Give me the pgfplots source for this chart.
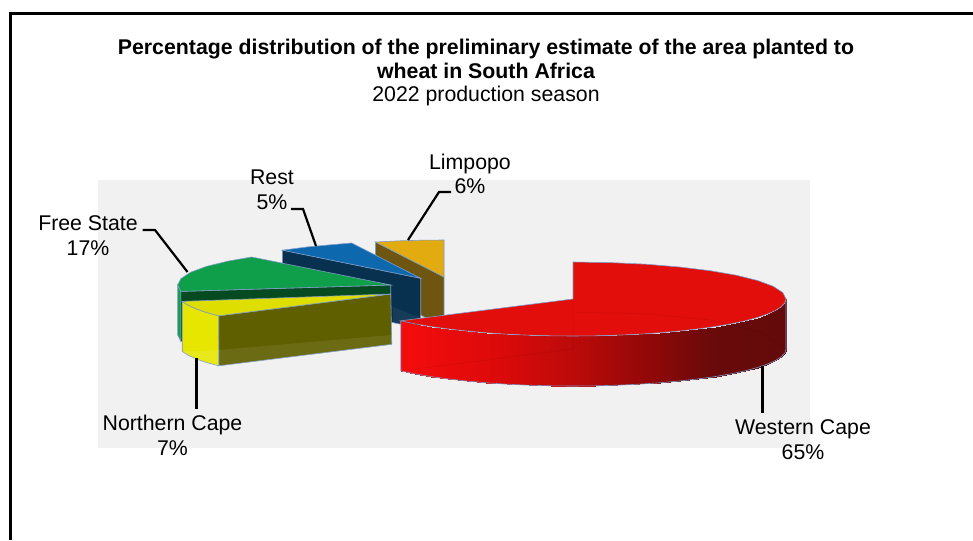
\documentclass[border=0pt]{standalone}
\usepackage{fontspec}
\setmainfont{Liberation Sans}
\usepackage{pgfplots}
\pgfplotsset{compat=1.18}

\definecolor{edge}{HTML}{7F9CC6}
\definecolor{plotbg}{HTML}{F1F1F1}
\definecolor{redtop}{HTML}{E20E0C}
\definecolor{goldtop}{HTML}{E2AB0F}
\definecolor{goldin}{HTML}{6E5611}
\definecolor{bluetop}{HTML}{0E68AE}
\definecolor{bluein}{HTML}{08304F}
\definecolor{greentop}{HTML}{0F9E4A}
\definecolor{greenin}{HTML}{064A22}
\definecolor{yellowtop}{HTML}{DEDE00}
\definecolor{yellowrim}{HTML}{E6E600}
\definecolor{yellowin}{HTML}{5F5F00}

\newcommand{\lab}{\fontsize{21.3}{24.5}\selectfont}

\begin{document}
\begin{tikzpicture}
\begin{axis}[
    scale only axis,
    width=973pt, height=540pt,
    xmin=0, xmax=973,
    ymin=0, ymax=540,
    y dir=reverse,
    hide axis,
    colormap={redrim}{rgb255(0)=(245,12,12) rgb255(100)=(220,10,10) rgb255(173)=(188,10,10) rgb255(250)=(145,8,8) rgb255(310)=(106,10,10) rgb255(386)=(100,10,10)},
    point meta min=400, point meta max=786,
]

% page
\addplot[fill=white, draw=none] coordinates {(0,0)(973,0)(973,540)(0,540)} -- cycle;

% frame, top and left only
\addplot[black, line width=3pt] coordinates {(10,540)(10,13.5)(973,13.5)};

% plot area
\addplot[fill=plotbg, draw=none] coordinates {(98,180)(810,180)(810,447.5)(98,447.5)} -- cycle;

% Limpopo
\addplot[fill=goldin, draw=edge, line width=.6pt] coordinates {(375.5,242)(444,277)(444,327)(375.5,292)} -- cycle;
\addplot[fill=goldtop, draw=edge, line width=.6pt] coordinates {(444,277)(375.5,242)(399.7,240.8)(422,240.2)(444,240)} -- cycle;

% Rest
\addplot[fill=bluein, draw=edge, line width=.6pt] coordinates {(282.3,250)(420.7,278.3)(420.7,328.3)(282.3,300)} -- cycle;
\addplot[fill=white, fill opacity=.06, draw=none] coordinates {(393,307)(420.7,318)(420.7,328)(393,323)} -- cycle;
\addplot[fill=bluetop, draw=edge, line width=.6pt] coordinates {(420.7,278.3)(282.3,250.2)(307.8,246.9)(330.7,244.8)(351.7,243)} -- cycle;

% Free State
\addplot[fill=greentop, draw=edge, line width=.6pt] coordinates {(177.7,285)(180.9,291.4)(180.9,341.4)(177.7,335)} -- cycle;
\addplot[fill=greenin, draw=edge, line width=.6pt] coordinates {(180.9,291.4)(390.7,285)(390.7,335)(180.9,341.4)} -- cycle;
\addplot[fill=greentop, draw=edge, line width=.6pt] coordinates {(390.7,285)(251.7,257)(227.5,261.2)(206.2,266.5)(190.5,272.3)(180.9,278.6)(177.7,285)(180.9,291.4)} -- cycle;

% Northern Cape
\addplot[fill=yellowin, draw=edge, line width=.6pt] coordinates {(218.7,315.8)(390.7,294)(391.8,344.3)(218.7,365.8)} -- cycle;
\addplot[fill=white, fill opacity=.08, draw=none] coordinates {(218.7,350)(391.6,335)(391.8,344.3)(218.7,365.8)} -- cycle;
\addplot[fill=yellowrim, draw=edge, line width=.6pt] coordinates {(182.2,301.4)(188.4,305.4)(196.4,309)(206.5,312.5)(218.7,315.8)(218.7,365.8)(206.5,362.5)(196.4,359)(188.4,355.4)(182.2,351.4)} -- cycle;
\addplot[fill=white, fill opacity=.1, draw=none] coordinates {(182.2,351.4)(218.7,350)(218.7,365.8)(206.5,362.5)(196.4,359)(188.4,355.4)} -- cycle;
\addplot[fill=yellowtop, draw=edge, line width=.6pt] coordinates {(390.7,294)(182.2,301.4)(188.4,305.4)(196.4,309)(206.5,312.5)(218.7,315.8)} -- cycle;

% Western Cape, rim then top
\addplot[surf, shader=interp, mesh/rows=2, point meta=x] table[row sep=crcr] {
786 299\\ 784.8 302.9\\ 781.3 306.7\\ 775.6 310.4\\ 767.6 314\\ 757.5 317.5\\ 745.3 320.8\\ 731.3 323.8\\ 715.5 326.5\\ 698.2 328.9\\ 679.5 331\\ 659.6 332.8\\ 638.8 334.2\\ 617.3 335.2\\ 595.3 335.8\\ 573 336\\ 550.7 335.8\\ 528.7 335.2\\ 507.2 334.2\\ 486.4 332.8\\ 466.5 331\\ 447.8 328.9\\ 430.5 326.5\\ 414.7 323.8\\ 400.7 320.8\\
786 349\\ 784.8 352.9\\ 781.3 356.7\\ 775.6 360.4\\ 767.6 364\\ 757.5 367.5\\ 745.3 370.8\\ 731.3 373.8\\ 715.5 376.5\\ 698.2 378.9\\ 679.5 381\\ 659.6 382.8\\ 638.8 384.2\\ 617.3 385.2\\ 595.3 385.8\\ 573 386\\ 550.7 385.8\\ 528.7 385.2\\ 507.2 384.2\\ 486.4 382.8\\ 466.5 381\\ 447.8 378.9\\ 430.5 376.5\\ 414.7 373.8\\ 400.7 370.8\\
};
\addplot[draw=edge, line width=.6pt] coordinates {(786,299)(786,349)(784.8,352.9)(781.3,356.7)(775.6,360.4)(767.6,364)(757.5,367.5)(745.3,370.8)(731.3,373.8)(715.5,376.5)(698.2,378.9)(679.5,381)(659.6,382.8)(638.8,384.2)(617.3,385.2)(595.3,385.8)(573,386)(550.7,385.8)(528.7,385.2)(507.2,384.2)(486.4,382.8)(466.5,381)(447.8,378.9)(430.5,376.5)(414.7,373.8)(400.7,370.8)(400.7,320.8)};
\addplot[fill=redtop, draw=edge, line width=.6pt] coordinates {(573,299)(573,262)(610,262.6)(645.8,264.2)(679.5,267)(710,270.7)(736.2,275.2)(757.5,280.5)(773.2,286.3)(782.8,292.6)(786,299)(784.8,302.9)(781.3,306.7)(775.6,310.4)(767.6,314)(757.5,317.5)(745.3,320.8)(731.3,323.8)(715.5,326.5)(698.2,328.9)(679.5,331)(659.6,332.8)(638.8,334.2)(617.3,335.2)(595.3,335.8)(573,336)(550.7,335.8)(528.7,335.2)(507.2,334.2)(486.4,332.8)(466.5,331)(447.8,328.9)(430.5,326.5)(414.7,323.8)(400.7,320.8)} -- cycle;
% faint lines seen through the glassy top
\addplot[color=black, opacity=.07, line width=.6pt] coordinates {(573,299)(573,349)(400.7,370.8)};
\addplot[color=black, opacity=.07, line width=.6pt] coordinates {(573,312)(650,314)(710,320)(760,332)(786,349)};

% leader lines
\addplot[black, line width=2.2pt] coordinates {(142.7,230)(155,230)(187.5,272)};
\addplot[black, line width=2.2pt] coordinates {(291,209)(303,209)(316,246)};
\addplot[black, line width=2.2pt] coordinates {(451,192)(439,192)(408,240)};
\addplot[black, line width=2.2pt] coordinates {(196.5,358)(196.5,409)};
\addplot[black, line width=2.2pt] coordinates {(762.5,366)(762.5,413)};

% title
\node[font=\bfseries\lab, align=center] at (axis cs:486,59) {Percentage distribution of the preliminary estimate of the area planted to\\wheat in South Africa};
\node[font=\lab] at (axis cs:486,96) {2022 production season};

% data labels
\node[font=\lab, align=center] at (axis cs:88,235.5) {Free State\\17\%};
\node[font=\lab, align=center] at (axis cs:272,190) {Rest\\5\%};
\node[font=\lab, align=center] at (axis cs:470,174) {Limpopo\\6\%};
\node[font=\lab, align=center] at (axis cs:172.5,435.5) {Northern Cape\\7\%};
\node[font=\lab, align=center] at (axis cs:803,439.5) {Western Cape\\65\%};

\end{axis}
\end{tikzpicture}
\end{document}
